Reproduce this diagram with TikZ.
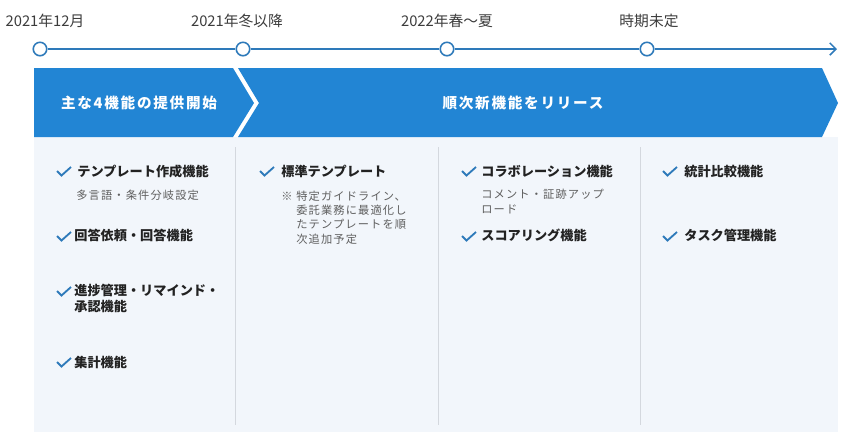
\documentclass[tikz,border=0pt]{standalone}
\usepackage{fontspec}
\setmainfont{Noto Sans CJK JP}
\newfontfamily\bandfont[LetterSpace=12]{Noto Sans CJK JP}
\newfontfamily\subfont[LetterSpace=10]{Noto Sans CJK JP}
\usetikzlibrary{arrows.meta}
\definecolor{bandblue}{RGB}{34,133,212}
\definecolor{lineblue}{RGB}{46,122,186}
\definecolor{panelbg}{RGB}{242,246,251}
\definecolor{divgray}{RGB}{212,216,222}
\definecolor{subgray}{RGB}{95,95,95}
\definecolor{itemblack}{RGB}{34,34,34}
\definecolor{labelgray}{RGB}{60,60,60}
\tikzset{
  tldot/.style={circle,draw=lineblue,fill=white,line width=0.9pt,minimum size=0.27cm,inner sep=0},
  tlline/.style={draw=lineblue,line width=0.9pt},
  datelbl/.style={inner sep=0,text=labelgray,font=\fontsize{8.4}{10}\selectfont},
  bandtxt/.style={inner sep=0,text=white,font=\fontsize{8.3}{10}\selectfont\bandfont\bfseries},
  itemtxt/.style={anchor=west,inner sep=0,align=left,text=itemblack,font=\fontsize{7.5}{9}\selectfont\bfseries},
  subtxt/.style={anchor=west,inner sep=0,align=left,text=subgray,font=\fontsize{6.4}{8.2}\selectfont\subfont},
  chk/.pic={\draw[draw=lineblue,line width=1.05pt] (-7,-1) -- (-2.5,3.5) -- (7,-5);}
}
\begin{document}
\begin{tikzpicture}[x=0.02cm,y=-0.02cm]
    \useasboundingbox (0,0) rectangle (850,444);
    % panel and dividers
    \fill[panelbg] (34,137) rectangle (838,432);
    \draw[divgray,line width=0.4pt] (235,147) -- (235,425);
    \draw[divgray,line width=0.4pt] (438,147) -- (438,425);
    \draw[divgray,line width=0.4pt] (640,147) -- (640,425);
    % band
    \fill[bandblue] (34,68) -- (233,68) -- (254,103) -- (233,137) -- (34,137) -- cycle;
    \fill[bandblue] (238,68) -- (822,68) -- (838,103) -- (822,137) -- (238,137) -- (259,103) -- cycle;
    \node[bandtxt] (band1) at (139,103) {主な4機能の提供開始};
    \node[bandtxt] (band2) at (523,103) {順次新機能をリリース};
    % timeline
    \node[tldot] (t1) at (40,49) {};
    \node[tldot] (t2) at (243,49) {};
    \node[tldot] (t3) at (447,49) {};
    \node[tldot] (t4) at (647,49) {};
    \coordinate (tend) at (837,49);
    \draw[tlline] (t1) -- (t2);
    \draw[tlline] (t2) -- (t3);
    \draw[tlline] (t3) -- (t4);
    \draw[tlline,-{Straight Barb[length=3.5pt,width=7pt]}] (t4) -- (tend);
    \node[datelbl] (d1) at (45,21) {2021年12月};
    \node[datelbl] (d2) at (237,21) {2021年冬以降};
    \node[datelbl] (d3) at (447,21) {2022年春～夏};
    \node[datelbl] (d4) at (649,21) {時期未定};
    % column 1
    \pic at (64,172) {chk};
    \node[itemtxt] (c1a) at (77,171) {テンプレート作成機能};
    \node[subtxt] (c1as) at (76,195) {多言語・条件分岐設定};
    \pic at (64,237) {chk};
    \node[itemtxt] (c1b) at (74,235) {回答依頼・回答機能};
    \pic at (64,292) {chk};
    \node[itemtxt] (c1c) at (74,298.5) {進捗管理・リマインド・\\承認機能};
    \pic at (64,363) {chk};
    \node[itemtxt] (c1d) at (74,362) {集計機能};
    % column 2
    \pic at (267,172) {chk};
    \node[itemtxt] (c2a) at (281,171) {標準テンプレート};
    \node[subtxt] (c2mark) at (281,196) {※};
    \node[subtxt] (c2as) at (296,217.5) {特定ガイドライン、\\委託業務に最適化し\\たテンプレートを順\\次追加予定};
    % column 3
    \pic at (469,172) {chk};
    \node[itemtxt] (c3a) at (481,171) {コラボレーション機能};
    \node[subtxt] (c3as) at (481,201.5) {コメント・証跡アップ\\ロード};
    \pic at (469,237) {chk};
    \node[itemtxt] (c3b) at (481,235) {スコアリング機能};
    % column 4
    \pic at (670,172) {chk};
    \node[itemtxt] (c4a) at (684,171) {統計比較機能};
    \pic at (670,237) {chk};
    \node[itemtxt] (c4b) at (684,235) {タスク管理機能};
\end{tikzpicture}
\end{document}
